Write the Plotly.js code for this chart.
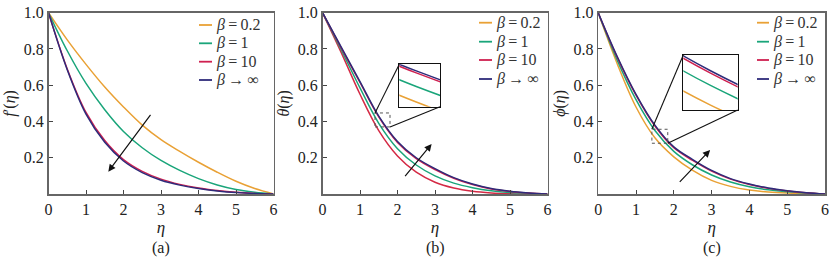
<!DOCTYPE html>
<html>
<head>
<meta charset="utf-8">
<script src="https://cdn.plot.ly/plotly-3.0.1.min.js"></script>
<style>html,body{margin:0;padding:0;background:#fff}#chart{width:831px;height:263px}</style>
</head>
<body>
<div id="chart"></div>
<script>
// ---------------- data ----------------
const eta = [0, 0.5, 1, 1.5, 2, 2.5, 3, 3.5, 4, 4.5, 5, 5.5, 6];
const betaLabels = ['<i>β</i>\u2009=\u20090.2', '<i>β</i>\u2009=\u20091', '<i>β</i>\u2009=\u200910', '<i>β</i>\u2009→\u2009∞'];

// (a) f'(eta)
const fA_b02  = [1, 0.85, 0.715, 0.59, 0.48, 0.38, 0.30, 0.235, 0.175, 0.12, 0.07, 0.03, 0];
const fA_b1   = [1, 0.79, 0.61, 0.465, 0.345, 0.255, 0.185, 0.13, 0.085, 0.05, 0.025, 0.01, 0];
const fA_b10  = [1, 0.69, 0.45, 0.295, 0.19, 0.125, 0.082, 0.053, 0.033, 0.019, 0.009, 0.003, 0];
const fA_binf = [1, 0.685, 0.44, 0.285, 0.182, 0.118, 0.076, 0.049, 0.030, 0.017, 0.008, 0.003, 0];

// (b) theta(eta)
const thB_b02  = [1, 0.78, 0.55, 0.35, 0.21, 0.12, 0.065, 0.033, 0.015, 0.006, 0.002, 0.0005, 0];
const thB_b1   = [1, 0.795, 0.585, 0.39, 0.25, 0.16, 0.10, 0.06, 0.035, 0.018, 0.008, 0.003, 0];
const thB_b10  = [1, 0.805, 0.615, 0.425, 0.284, 0.195, 0.135, 0.087, 0.052, 0.028, 0.014, 0.005, 0];
const thB_binf = [1, 0.81, 0.62, 0.43, 0.29, 0.20, 0.14, 0.09, 0.055, 0.03, 0.015, 0.006, 0];

// (c) phi(eta)
const phC_b02  = [1, 0.72, 0.48, 0.31, 0.205, 0.13, 0.075, 0.042, 0.022, 0.011, 0.005, 0.002, 0];
const phC_b1   = [1, 0.74, 0.52, 0.35, 0.235, 0.16, 0.105, 0.066, 0.04, 0.023, 0.012, 0.005, 0];
const phC_b10  = [1, 0.755, 0.545, 0.375, 0.255, 0.185, 0.126, 0.082, 0.052, 0.031, 0.017, 0.007, 0];
const phC_binf = [1, 0.76, 0.55, 0.38, 0.26, 0.19, 0.13, 0.085, 0.055, 0.033, 0.018, 0.007, 0];

const xTicks = [0, 1, 2, 3, 4, 5, 6];
const yTicks = [0.2, 0.4, 0.6, 0.8, 1.0];
const yTickText = ['0.2', '0.4', '0.6', '0.8', '1.0'];
const yTitles = ['<i>f</i>\u2032(<i>η</i>)', '<i>θ</i>(<i>η</i>)', '<i>ϕ</i>(<i>η</i>)'];
const panelLabels = ['(a)', '(b)', '(c)'];

// ---------------- styling ----------------
const COL = ['#e9a135', '#1aa57a', '#cf2050', '#2e2b7a'];
const FONT = 'Liberation Serif';
const W = 831, H = 263;
const px2x = p => p / W;
const px2y = p => (H - p) / H;

const plotTop = 12.7, plotBot = 194;
const panelsPx = [[48.5, 273.5], [322.5, 547.5], [598.2, 825]];
const yDom = [px2y(plotBot), px2y(plotTop)];

const traces = [];
const series = [
  [fA_b02, fA_b1, fA_b10, fA_binf],
  [thB_b02, thB_b1, thB_b10, thB_binf],
  [phC_b02, phC_b1, phC_b10, phC_binf]
];
const mainCols = [
  COL,
  ['#d42a45', COL[1], COL[2], COL[3]],
  COL
];
series.forEach((set, p) => {
  const xa = p === 0 ? 'x' : 'x' + (p + 1);
  const ya = p === 0 ? 'y' : 'y' + (p + 1);
  set.forEach((vals, i) => {
    traces.push({x: eta, y: vals, xaxis: xa, yaxis: ya, type: 'scatter', mode: 'lines',
      line: {color: mainCols[p][i], width: 1.5, shape: 'spline', smoothing: 1}, showlegend: false, hoverinfo: 'skip'});
  });
});
[[1, 'x4', 'y4'], [2, 'x5', 'y5']].forEach(([p, xa, ya]) => {
  series[p].forEach((vals, i) => {
    traces.push({x: eta, y: vals, xaxis: xa, yaxis: ya, type: 'scatter', mode: 'lines',
      line: {color: COL[i], width: 1.5, shape: 'spline', smoothing: 1}, showlegend: false, hoverinfo: 'skip'});
  });
});

const axFont = {family: FONT, size: 16, color: '#222'};
function xAxis(dom, anchor) {
  return {domain: dom, anchor: anchor, range: [0, 6], tickvals: xTicks, ticks: 'inside', ticklen: 4,
    tickwidth: 1, tickcolor: '#444', showline: true, mirror: true, linecolor: '#666', linewidth: 1.6,
    showgrid: false, zeroline: false, tickfont: axFont, automargin: false,
    title: {text: '<i>η</i>', font: {family: FONT, size: 17, color: '#222'}, standoff: 4}};
}
function yAxis(anchor, title) {
  return {domain: yDom, anchor: anchor, range: [0, 1], tickvals: yTicks, ticktext: yTickText, ticks: 'inside',
    ticklen: 4, tickwidth: 1, tickcolor: '#444', showline: true, mirror: true, linecolor: '#666', linewidth: 1.6,
    showgrid: false, zeroline: false, tickfont: axFont, automargin: false,
    title: {text: title, font: {family: FONT, size: 16, color: '#222'}, standoff: 4}};
}
const insetRanges = {
  b: {x: [1.45, 1.57], y: [0.338, 0.447]},
  c: {x: [1.40, 1.60], y: [0.300, 0.412]}
};
const insetPx = {
  b: {x: [399.3, 440], y: [106.7, 64.3]},
  c: {x: [683.3, 737.7], y: [110, 55]}
};
function insetAxisX(k, anchor) {
  return {domain: [px2x(insetPx[k].x[0]), px2x(insetPx[k].x[1])], anchor: anchor, range: insetRanges[k].x,
    showticklabels: false, ticks: '', showline: true, mirror: true, linecolor: '#111', linewidth: 1.3,
    showgrid: false, zeroline: false};
}
function insetAxisY(k, anchor) {
  return {domain: [px2y(insetPx[k].y[0]), px2y(insetPx[k].y[1])], anchor: anchor, range: insetRanges[k].y,
    showticklabels: false, ticks: '', showline: true, mirror: true, linecolor: '#111', linewidth: 1.3,
    showgrid: false, zeroline: false};
}

const layout = {
  width: W, height: H, margin: {l: 0, r: 0, t: 0, b: 0},
  paper_bgcolor: '#fff', plot_bgcolor: 'rgba(0,0,0,0)', showlegend: false,
  font: {family: FONT, color: '#222'},
  xaxis: xAxis([px2x(panelsPx[0][0]), px2x(panelsPx[0][1])], 'y'),
  yaxis: yAxis('x', yTitles[0]),
  xaxis2: xAxis([px2x(panelsPx[1][0]), px2x(panelsPx[1][1])], 'y2'),
  yaxis2: yAxis('x2', yTitles[1]),
  xaxis3: xAxis([px2x(panelsPx[2][0]), px2x(panelsPx[2][1])], 'y3'),
  yaxis3: yAxis('x3', yTitles[2]),
  xaxis4: insetAxisX('b', 'y4'), yaxis4: insetAxisY('b', 'x4'),
  xaxis5: insetAxisX('c', 'y5'), yaxis5: insetAxisY('c', 'x5'),
  shapes: [], annotations: []
};

panelsPx.forEach((pp, p) => {
  layout.annotations.push({xref: 'paper', yref: 'paper', x: px2x((pp[0] + pp[1]) / 2), y: px2y(248),
    text: panelLabels[p], showarrow: false, font: {family: FONT, size: 16, color: '#222'}, xanchor: 'center', yanchor: 'middle'});
});

const legendPx = [
  {line: [199, 212], text: 214, rows: [25, 43.3, 61.7, 80]},
  {line: [479, 492], text: 494, rows: [22.7, 41.7, 60, 79]},
  {line: [757, 769], text: 771, rows: [22.7, 41.7, 60, 79]}
];
legendPx.forEach(lg => {
  betaLabels.forEach((lab, i) => {
    layout.shapes.push({type: 'line', xref: 'paper', yref: 'paper', x0: px2x(lg.line[0]), x1: px2x(lg.line[1]),
      y0: px2y(lg.rows[i]), y1: px2y(lg.rows[i]), line: {color: COL[i], width: 1.8}});
    layout.annotations.push({xref: 'paper', yref: 'paper', x: px2x(lg.text), y: px2y(lg.rows[i]), text: lab,
      showarrow: false, xanchor: 'left', yanchor: 'middle', font: {family: FONT, size: 16, color: '#333'}});
  });
});

const arrows = [
  {xa: 'x', ya: 'y', tail: [2.75, 0.445], head: [1.595, 0.123]},
  {xa: 'x2', ya: 'y2', tail: [2.17, 0.09], head: [2.91, 0.276]},
  {xa: 'x3', ya: 'y3', tail: [2.12, 0.059], head: [2.96, 0.243]}
];
arrows.forEach(a => {
  layout.annotations.push({xref: a.xa, yref: a.ya, axref: a.xa, ayref: a.ya, x: a.head[0], y: a.head[1],
    ax: a.tail[0], ay: a.tail[1], text: '', showarrow: true, arrowhead: 2, arrowsize: 1.2, arrowwidth: 1.2, arrowcolor: '#111'});
});

const zoomBoxes = [
  {p: 1, k: 'b', xa: 'x2', ya: 'y2', box: {x: [1.4, 1.8], y: [0.37, 0.447]}},
  {p: 2, k: 'c', xa: 'x3', ya: 'y3', box: {x: [1.42, 1.84], y: [0.28, 0.357]}}
];
function dataToPaperX(p, v) { const d = panelsPx[p]; return px2x(d[0] + v / 6 * (d[1] - d[0])); }
function dataToPaperY(v) { return px2y(plotBot - v * (plotBot - plotTop)); }
zoomBoxes.forEach(z => {
  layout.shapes.push({type: 'rect', xref: z.xa, yref: z.ya, x0: z.box.x[0], x1: z.box.x[1], y0: z.box.y[0], y1: z.box.y[1],
    line: {color: '#555', width: 1, dash: 'dot'}});
  const ip = insetPx[z.k];
  layout.shapes.push({type: 'line', xref: 'paper', yref: 'paper', x0: dataToPaperX(z.p, z.box.x[0]), y0: dataToPaperY(z.box.y[1]),
    x1: px2x(ip.x[0]), y1: px2y(ip.y[1]), line: {color: '#111', width: 1.1}});
  layout.shapes.push({type: 'line', xref: 'paper', yref: 'paper', x0: dataToPaperX(z.p, z.box.x[1]), y0: dataToPaperY(z.box.y[0]),
    x1: px2x(ip.x[1]), y1: px2y(ip.y[0]), line: {color: '#111', width: 1.1}});
});

Plotly.newPlot('chart', traces, layout, {staticPlot: true, displayModeBar: false});
</script>
</body>
</html>
